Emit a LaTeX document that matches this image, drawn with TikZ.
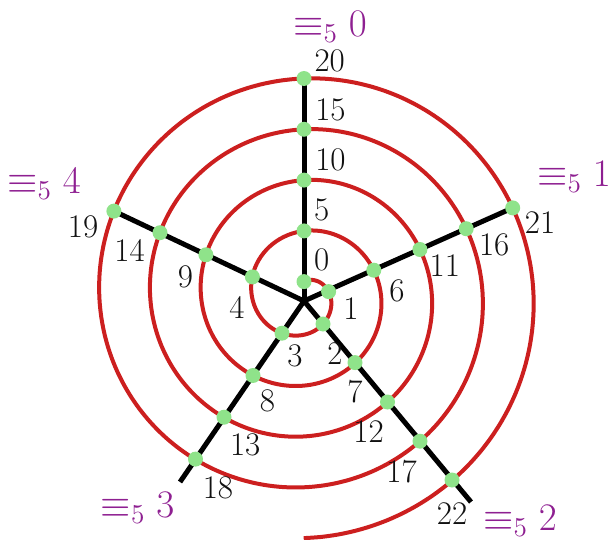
\RequirePackage{fix-cm}
\documentclass[tikz,border=0pt]{standalone}
\usepackage{tikz}
\usetikzlibrary{backgrounds}
\definecolor{ink}{HTML}{111111}
\definecolor{spiralred}{HTML}{CC1F1F}
\definecolor{dotgreen}{HTML}{8FE38A}
\definecolor{modpurple}{HTML}{8E1F91}

\begin{document}
\begin{tikzpicture}[x=0.5pt,y=-0.5pt,
  dot/.style={circle,fill=dotgreen,inner sep=0pt,minimum size=7.5pt},
  num/.style={font=\fontsize{16.5}{19}\selectfont,text=ink,inner sep=1pt},
  modlab/.style={font=\fontsize{19.5}{23}\selectfont,text=modpurple,inner sep=0pt},
  spoke/.style={line width=2.5pt,draw=black},
  spiral/.style={line width=2pt,draw=spiralred}]
\useasboundingbox (0,0) rectangle (611,540);
\coordinate (c) at (304,301);
\coordinate (e2) at (471,502);
\coordinate (e3) at (180,482);

\node[dot,label={[num,label distance=1.5pt]45:0}] (d0) at (304,281.6) {};
\node[dot,label={[num,label distance=1.5pt]45:5}] (d5) at (304,230.9) {};
\node[dot,label={[num,label distance=1.5pt]35:10}] (d10) at (304,180.1) {};
\node[dot,label={[num,label distance=1.5pt]35:15}] (d15) at (304,129.3) {};
\node[dot,label={[num,label distance=0.5pt]24:20}] (d20) at (304,78.5) {};

\node[dot,label={[num,label distance=2.5pt]-18:1}] (d1) at (328.6,291.6) {};
\node[dot,label={[num,label distance=3.5pt]-28:6}] (d6) at (373.8,270.2) {};
\node[dot,label={[num,label distance=0pt]-20:11}] (d11) at (419.9,249.5) {};
\node[dot,label={[num,label distance=1.5pt]-16:16}] (d16) at (466.2,228.7) {};
\node[dot,label={[num,label distance=1pt]-10:21}] (d21) at (512.7,207.9) {};

\node[dot,label={[num,label distance=4.5pt]-83:2}] (d2) at (323,324) {};
\node[dot,label={[num,label distance=3.5pt]-90:7}] (d7) at (355,362.6) {};
\node[dot,label={[num,label distance=4pt]-95:12}] (d12) at (387.5,402) {};
\node[dot,label={[num,label distance=4.3pt]-93:17}] (d17) at (420,441.2) {};
\node[dot,label={[num,label distance=6pt]-90:22}] (d22) at (452,480) {};

\node[dot,label={[num,label distance=1pt]-72:3}] (d3) at (282,333.2) {};
\node[dot,label={[num,label distance=2.5pt]-70:8}] (d8) at (253,375.5) {};
\node[dot,label={[num,label distance=3.2pt]-75:13}] (d13) at (224,417.2) {};
\node[dot,label={[num,label distance=4pt]-72:18}] (d18) at (195.5,459.1) {};

\node[dot,label={[num,label distance=5pt]-108:4}] (d4) at (252.4,276.9) {};
\node[dot,label={[num,label distance=2.7pt]-142:9}] (d9) at (205.9,254.8) {};
\node[dot,label={[num,label distance=2.9pt]-160:14}] (d14) at (160,232.7) {};
\node[dot,label={[num,label distance=2.8pt]-170:19}] (d19) at (113.9,211.1) {};

\node[modlab] (m0) at (330,27) {$\equiv_5 0$};
\node[modlab] (m1) at (574,177) {$\equiv_5 1$};
\node[modlab] (m2) at (520,521) {$\equiv_5 2$};
\node[modlab] (m3) at (137.5,508) {$\equiv_5 3$};
\node[modlab] (m4) at (44,184) {$\equiv_5 4$};

\begin{scope}[on background layer]
\draw[spiral] plot[variable=\t,domain=0:1620,samples=400,smooth]
  ({303.7+(13.8+0.1412*\t)*sin(\t)},{295.6-(13.8+0.1412*\t)*cos(\t)});
\draw[spoke] (c) -- (d20.center);
\draw[spoke] (c) -- (d21.center);
\draw[spoke] (c) -- (e2);
\draw[spoke] (c) -- (e3);
\draw[spoke] (c) -- (d19.center);
\end{scope}
\end{tikzpicture}
\end{document}
